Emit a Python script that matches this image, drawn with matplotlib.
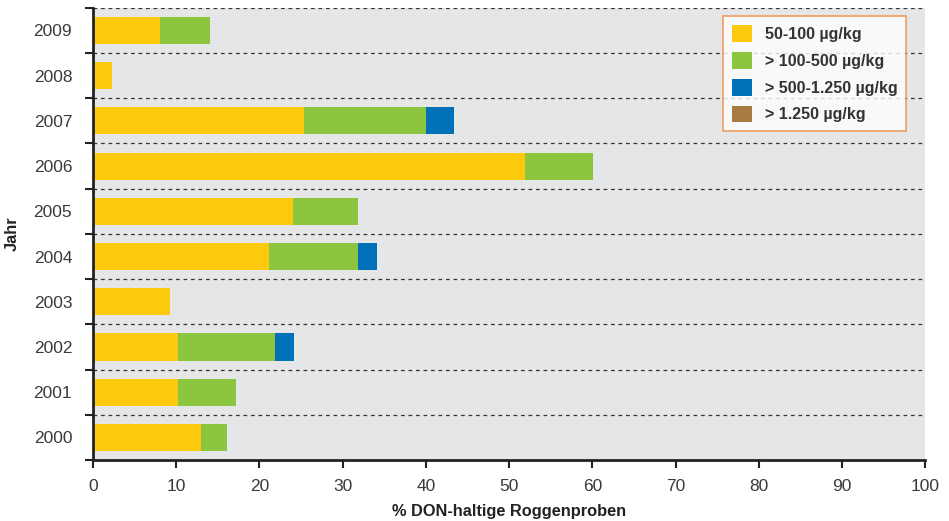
import numpy as np
import matplotlib.pyplot as plt
from matplotlib.patches import Patch

plt.rcParams['font.family'] = ['Liberation Sans', 'DejaVu Sans']

# data (percent of samples per DON class)
years = ['2000', '2001', '2002', '2003', '2004', '2005', '2006', '2007', '2008', '2009']
don_50_100 = [13.0, 10.2, 10.2, 9.2, 21.1, 24.0, 51.9, 25.3, 2.3, 8.1]
don_100_500 = [3.1, 7.0, 11.7, 0.0, 10.7, 7.9, 8.2, 14.7, 0.0, 6.0]
don_500_1250 = [0.0, 0.0, 2.3, 0.0, 2.3, 0.0, 0.0, 3.4, 0.0, 0.0]
don_over_1250 = [0.0, 0.0, 0.0, 0.0, 0.0, 0.0, 0.0, 0.0, 0.0, 0.0]
series_labels = ['50-100 µg/kg', '> 100-500 µg/kg', '> 500-1.250 µg/kg', '> 1.250 µg/kg']
colors = ['#fdc90c', '#8cc63f', '#0070b8', '#a67c42']

fig = plt.figure(figsize=(9.49, 5.21), dpi=100)
ax = fig.add_axes([0.098, 0.117, 0.877, 0.868])
ax.set_facecolor('#e5e6e8')

y = np.arange(len(years))
left = np.zeros(len(years))
for vals, c in zip([don_50_100, don_100_500, don_500_1250, don_over_1250], colors):
    vals = np.array(vals)
    ax.barh(y, vals, left=left, height=0.6, color=c, edgecolor='none', zorder=3)
    left += vals

ax.set_xlim(0, 100)
ax.set_ylim(-0.5, len(years) - 0.5)

# dashed separators between years
for b in np.arange(0.5, len(years) + 0.5, 1.0):
    ax.axhline(b, color='#333333', lw=0.9, ls=(0, (3, 3)), zorder=2)

ax.set_yticks(y)
ax.set_yticklabels(years)
ax.set_yticks(np.arange(-0.5, len(years) + 0.5, 1.0), minor=True)
ax.tick_params(axis='y', which='major', length=0, pad=15, labelsize=12.5, labelcolor='#3a3a3a')
ax.tick_params(axis='y', which='minor', length=6, width=1.5, color='#222222')
ax.set_xticks(np.arange(0, 101, 10))
ax.tick_params(axis='x', length=6, width=1.5, color='#222222', labelsize=12.5,
               labelcolor='#3a3a3a', pad=8)

for s in ['top', 'right']:
    ax.spines[s].set_visible(False)
for s in ['left', 'bottom']:
    ax.spines[s].set_linewidth(2)
    ax.spines[s].set_color('#222222')
    ax.spines[s].set_zorder(5)

ax.set_xlabel('% DON-haltige Roggenproben', fontsize=11.8, fontweight='bold', color='#222222')
ax.xaxis.set_label_coords(0.5, -0.097)
ax.set_ylabel('Jahr', fontsize=11.8, fontweight='bold', color='#222222')
ax.yaxis.set_label_coords(-0.088, 0.5)

handles = [Patch(facecolor=c, edgecolor='none') for c in colors]
leg = ax.legend(handles, series_labels, loc='upper left', bbox_to_anchor=(0.757, 0.981),
                borderaxespad=0, frameon=True, fancybox=False, handlelength=1.25,
                handleheight=1.25, handletextpad=0.8, labelspacing=0.62, borderpad=0.55,
                prop={'size': 11.5, 'weight': 'bold'})
leg.get_frame().set_edgecolor('#f0883a')
leg.get_frame().set_linewidth(1.2)
leg.set_zorder(6)
for t in leg.get_texts():
    t.set_color('#333333')

fig.savefig('out.png', dpi=100)
